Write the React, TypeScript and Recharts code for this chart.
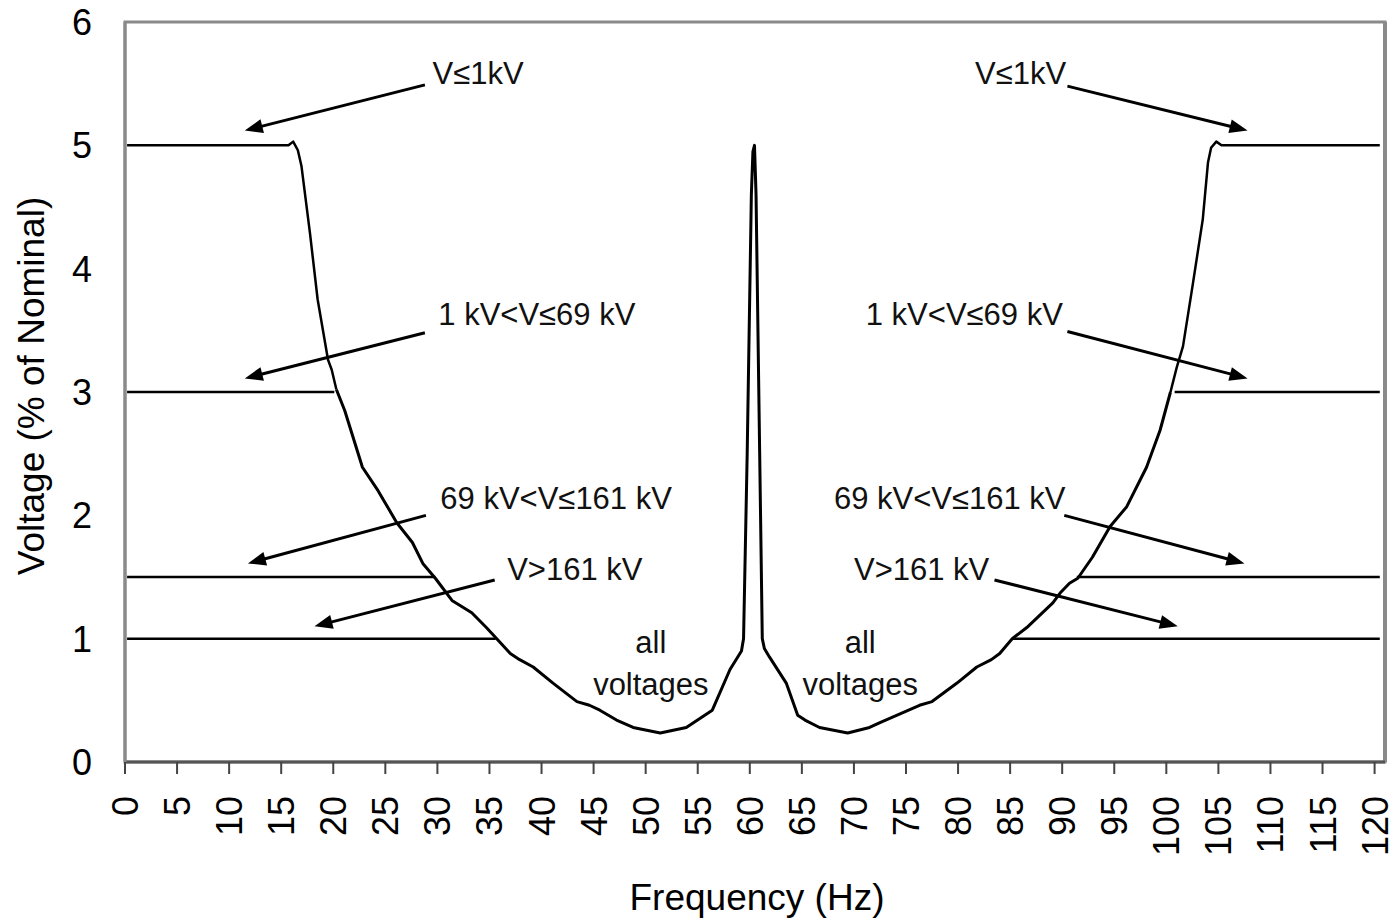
import React from 'react';
import { LineChart, Line, XAxis, YAxis, ReferenceArea, ReferenceLine, ReferenceDot } from 'recharts';

const FONT = '"Liberation Sans", Arial, sans-serif';

// Tick labels
const freqTicks = [0, 5, 10, 15, 20, 25, 30, 35, 40, 45, 50, 55, 60, 65, 70, 75, 80, 85, 90, 95, 100, 105, 110, 115, 120];
const voltTicks = [0, 1, 2, 3, 4, 5, 6];

// Series: [frequency Hz, voltage % of nominal]
const lowVoltLeft: number[][] = [[0.2, 5], [15.7, 5], [16.15, 5.03], [16.6, 4.96], [16.95, 4.83], [17.76, 4.29], [18.5, 3.75], [19.5, 3.26], [19.85, 3.18], [20.3, 3.02]];
const lowVoltRight: number[][] = [[100.4, 3.0], [101.0, 3.2], [101.6, 3.37], [102.5, 3.85], [103.5, 4.4], [104.0, 4.86], [104.3, 4.98], [104.8, 5.03], [105.3, 5], [120.5, 5]];
const midVoltLeft: number[][] = [[0.2, 3], [20.1, 3]];
const midVoltRight: number[][] = [[100.8, 3], [120.5, 3]];
const highVoltLeft: number[][] = [[0.2, 1.5], [29.8, 1.5]];
const highVoltRight: number[][] = [[91.4, 1.5], [120.5, 1.5]];
const extraHighLeft: number[][] = [[0.2, 1], [35.6, 1]];
const extraHighRight: number[][] = [[85.2, 1], [120.5, 1]];
const allVoltages: number[][] = [
  [20.3, 3.02], [21.1, 2.85], [22.8, 2.39], [24.3, 2.2], [26.1, 1.94], [27.6, 1.78], [28.6, 1.61], [29.8, 1.49],
  [31.4, 1.31], [33.3, 1.21], [34.7, 1.09], [35.7, 1.0], [37.0, 0.88], [37.9, 0.83], [39.2, 0.77], [41.1, 0.64],
  [43.4, 0.49], [44.6, 0.46], [45.6, 0.42], [47.2, 0.34], [48.8, 0.28], [51.4, 0.235], [53.9, 0.28], [56.4, 0.42],
  [58.1, 0.75], [59.2, 0.9], [59.4, 1.0], [59.75, 2.5], [60.15, 4.6], [60.3, 4.95], [60.45, 5.0], [60.6, 4.6],
  [60.95, 2.5], [61.2, 1.0], [61.4, 0.92], [61.9, 0.85], [63.5, 0.64], [64.6, 0.38], [65.3, 0.34], [66.7, 0.28],
  [69.4, 0.235], [71.5, 0.28], [72.5, 0.32], [76.3, 0.46], [77.5, 0.49], [79.9, 0.64], [81.8, 0.77], [83.2, 0.83],
  [84.0, 0.88], [85.2, 1.0], [86.6, 1.09], [89.1, 1.29], [89.8, 1.37], [90.7, 1.45], [91.5, 1.49], [92.9, 1.66],
  [94.6, 1.91], [96.2, 2.07], [98.1, 2.39], [99.4, 2.69], [100.4, 3.0],
];

// Annotations: arrow from [f, v] to [f, v]
const arrows: number[][][] = [
  [[28.8, 5.49], [11.5, 5.12]],
  [[90.5, 5.48], [107.8, 5.12]],
  [[28.8, 3.48], [11.5, 3.11]],
  [[90.5, 3.49], [107.8, 3.11]],
  [[28.9, 2.0], [11.8, 1.61]],
  [[90.2, 2.0], [107.5, 1.61]],
  [[35.5, 1.476], [18.2, 1.10]],
  [[83.5, 1.476], [101.1, 1.10]],
];
const annotationTexts = ['V≤1kV', 'V≤1kV', '1 kV<V≤69 kV', '1 kV<V≤69 kV', '69 kV<V≤161 kV', '69 kV<V≤161 kV', 'V>161 kV', 'V>161 kV', 'all', 'voltages', 'all', 'voltages'];
const annotationPos: number[][] = [
  [33.9, 5.59], [86.0, 5.59], [39.55, 3.63], [80.6, 3.63], [41.4, 2.14], [79.2, 2.14], [43.2, 1.565], [76.5, 1.565],
  [50.5, 0.97], [50.5, 0.63], [70.6, 0.97], [70.6, 0.63],
];

const toPts = (arr: number[][]) => arr.map(([f, v]) => ({ f, v }));

const ArrowShape = (p: any) => {
  const { x1, y1, x2, y2 } = p;
  const dx = x2 - x1;
  const dy = y2 - y1;
  const len = Math.hypot(dx, dy) || 1;
  const ux = dx / len;
  const uy = dy / len;
  const hl = 18;
  const hw = 7;
  const bx = x2 - ux * hl;
  const by = y2 - uy * hl;
  const pts = `${x2},${y2} ${bx - uy * hw},${by + ux * hw} ${bx + uy * hw},${by - ux * hw}`;
  return (
    <g>
      <line x1={x1} y1={y1} x2={bx + ux * 2} y2={by + uy * 2} stroke="#000" strokeWidth={3} />
      <polygon points={pts} fill="#000" />
    </g>
  );
};

const XTick = (props: any) => {
  const { x, y, payload } = props;
  return (
    <text x={0} y={0} transform={`translate(${x + 13},${y + 20}) rotate(-90)`} textAnchor="end" fontSize={36} fontFamily={FONT} fill="#000">
      {payload.value}
    </text>
  );
};

const YTick = (props: any) => {
  const { x, y, payload } = props;
  return (
    <text x={x} y={y} dy="0.36em" textAnchor="end" fontSize={36} fontFamily={FONT} fill="#000">
      {payload.value}
    </text>
  );
};

const seriesList = [
  lowVoltLeft, lowVoltRight, midVoltLeft, midVoltRight, highVoltLeft, highVoltRight, extraHighLeft, extraHighRight,
];

export default function App() {
  return (
    <div style={{ position: 'absolute', left: 0, top: 0, background: '#fff' }}>
      <LineChart width={1395} height={918} margin={{ top: 22, right: 10, bottom: 0, left: 0 }}>
        <ReferenceArea x1={0} x2={121} y1={0} y2={6} fill="none" stroke="#8a8a8a" strokeWidth={3} />
        <ReferenceLine x={121} stroke="#8a8a8a" strokeWidth={4} />
        <XAxis
          dataKey="f"
          type="number"
          domain={[0, 121]}
          ticks={freqTicks}
          interval={0}
          height={156}
          tickSize={12}
          tickLine={{ stroke: '#444', strokeWidth: 2 }}
          axisLine={{ stroke: '#555', strokeWidth: 3 }}
          tick={<XTick />}
          label={{
            content: (p: any) => {
              const vb = p.viewBox || { x: 125, y: 762, width: 1260, height: 156 };
              return (
                <text x={vb.x + vb.width / 2 + 2} y={vb.y + 148} textAnchor="middle" fontSize={37} fontFamily={FONT} fill="#000">
                  Frequency (Hz)
                </text>
              );
            },
          }}
        />
        <YAxis
          type="number"
          domain={[0, 6]}
          ticks={voltTicks}
          width={125}
          tickSize={0}
          tickMargin={33}
          tickLine={false}
          axisLine={{ stroke: '#8a8a8a', strokeWidth: 3 }}
          tick={<YTick />}
          label={{
            content: (p: any) => {
              const vb = p.viewBox || { x: 0, y: 22, width: 125, height: 740 };
              return (
                <text
                  x={0}
                  y={0}
                  transform={`translate(${vb.x + 44},${vb.y + vb.height / 2 - 6}) rotate(-90)`}
                  textAnchor="middle"
                  fontSize={37}
                  fontFamily={FONT}
                  fill="#000"
                >
                  Voltage (% of Nominal)
                </text>
              );
            },
          }}
        />
        {seriesList.map((s, i) => (
          <Line
            key={`s${i}`}
            data={toPts(s)}
            dataKey="v"
            type="linear"
            stroke="#000"
            strokeWidth={2.5}
            strokeLinejoin="round"
            dot={false}
            activeDot={false}
            isAnimationActive={false}
          />
        ))}
        <Line
          data={toPts(allVoltages)}
          dataKey="v"
          type="linear"
          stroke="#000"
          strokeWidth={3}
          strokeLinejoin="round"
          dot={false}
          activeDot={false}
          isAnimationActive={false}
        />
        {arrows.map((a, i) => (
          <ReferenceLine
            key={`a${i}`}
            segment={[{ x: a[0][0], y: a[0][1] }, { x: a[1][0], y: a[1][1] }]}
            shape={ArrowShape}
          />
        ))}
        {annotationPos.map((p, i) => (
          <ReferenceDot
            key={`t${i}`}
            x={p[0]}
            y={p[1]}
            r={0}
            fill="none"
            stroke="none"
            label={{ value: annotationTexts[i], position: 'center', fontSize: 31, fontFamily: FONT, fill: '#111' }}
          />
        ))}
      </LineChart>
    </div>
  );
}
